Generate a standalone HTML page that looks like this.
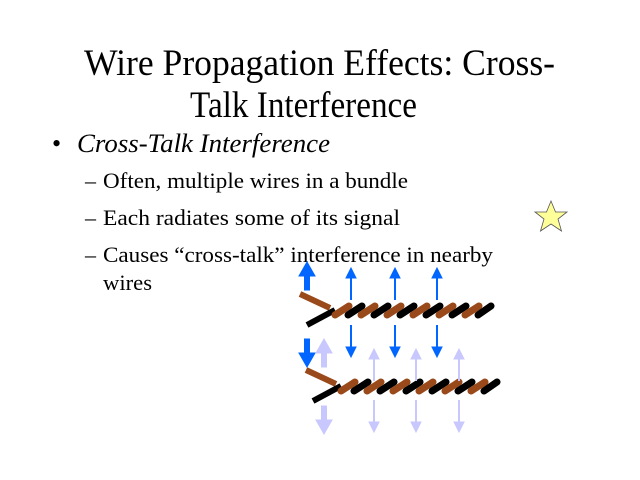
<!DOCTYPE html>
<html><head><style>
html,body{margin:0;padding:0;background:#fff;}
svg{display:block}
text{font-family:"Liberation Serif",serif;fill:#000}
</style></head><body>
<svg width="640" height="480" viewBox="0 0 640 480" xmlns="http://www.w3.org/2000/svg">
<text x="84" y="75" font-size="37" textLength="471" lengthAdjust="spacingAndGlyphs">Wire Propagation Effects: Cross-</text>
<text x="190" y="117" font-size="37" textLength="227" lengthAdjust="spacingAndGlyphs">Talk Interference</text>
<text x="52" y="152" font-size="26">•</text>
<text x="77" y="152" font-size="26" font-style="italic" textLength="253" lengthAdjust="spacingAndGlyphs">Cross-Talk Interference</text>
<g font-size="22">
<text x="85" y="188">–</text><text x="103" y="188" textLength="305" lengthAdjust="spacingAndGlyphs">Often, multiple wires in a bundle</text>
<text x="85" y="225">–</text><text x="103" y="225" textLength="297" lengthAdjust="spacingAndGlyphs">Each radiates some of  its signal</text>
<text x="85" y="262">–</text><text x="103" y="262" textLength="390" lengthAdjust="spacingAndGlyphs">Causes “cross-talk” interference in nearby</text>
<text x="103" y="290" textLength="49" lengthAdjust="spacingAndGlyphs">wires</text>
</g>
<polygon points="551,201 555.5,212 567,212 558,219 561.5,231 551,224 540.5,231 544,219 535,212 546.5,212" fill="#ffff99" stroke="#555" stroke-width="0.8"/>
<defs>
<g id="wire">
<line x1="0" y1="-16" x2="30" y2="-2" stroke="#9a4a1a" stroke-width="6"/>
<line x1="7" y1="15" x2="35" y2="0" stroke="#000" stroke-width="6"/>
<g stroke-width="7" stroke-linecap="round">
<line x1="35" y1="5" x2="49" y2="-4" stroke="#9a4a1a"/>
<line x1="48" y1="5" x2="62" y2="-4" stroke="#000"/>
<line x1="61" y1="5" x2="75" y2="-4" stroke="#9a4a1a"/>
<line x1="74" y1="5" x2="88" y2="-4" stroke="#000"/>
<line x1="87" y1="5" x2="101" y2="-4" stroke="#9a4a1a"/>
<line x1="100" y1="5" x2="114" y2="-4" stroke="#000"/>
<line x1="113" y1="5" x2="127" y2="-4" stroke="#9a4a1a"/>
<line x1="126" y1="5" x2="140" y2="-4" stroke="#000"/>
<line x1="139" y1="5" x2="153" y2="-4" stroke="#9a4a1a"/>
<line x1="152" y1="5" x2="166" y2="-4" stroke="#000"/>
<line x1="165" y1="5" x2="179" y2="-4" stroke="#9a4a1a"/>
<line x1="178" y1="5" x2="191" y2="-4" stroke="#000"/>
</g>
</g>
<g id="su"><line x1="0" y1="8" x2="0" y2="32" stroke-width="2"/><polygon points="-5,10 5,10 0,0"/></g>
<g id="sd"><line x1="0" y1="0" x2="0" y2="24" stroke-width="2"/><polygon points="-5,22 5,22 0,32"/></g>
<g id="bu"><rect x="-2.5" y="12" width="5" height="16"/><polygon points="-8,14 8,14 0,0"/></g>
<g id="bd"><rect x="-2.5" y="0" width="5" height="16"/><polygon points="-8,14 8,14 0,28"/></g>
</defs>
<use href="#wire" x="300" y="310"/>
<use href="#wire" x="306" y="386"/>
<g fill="#0066ff" stroke="#0066ff">
<use href="#bu" x="307" y="262"/>
<use href="#bd" x="307" y="339"/>
<use href="#su" x="351" y="268"/><use href="#su" x="395" y="268"/><use href="#su" x="437" y="268"/>
<use href="#sd" x="351" y="325"/><use href="#sd" x="395" y="325"/><use href="#sd" x="437" y="325"/>
</g>
<g fill="#c8c8ff" stroke="#c8c8ff">
<use href="#bu" x="324" y="339"/>
<use href="#bd" x="324" y="406"/>
<use href="#su" x="374" y="349"/><use href="#su" x="416" y="349"/><use href="#su" x="459" y="349"/>
<use href="#sd" x="374" y="400"/><use href="#sd" x="416" y="400"/><use href="#sd" x="459" y="400"/>
</g>
</svg>
</body></html>
